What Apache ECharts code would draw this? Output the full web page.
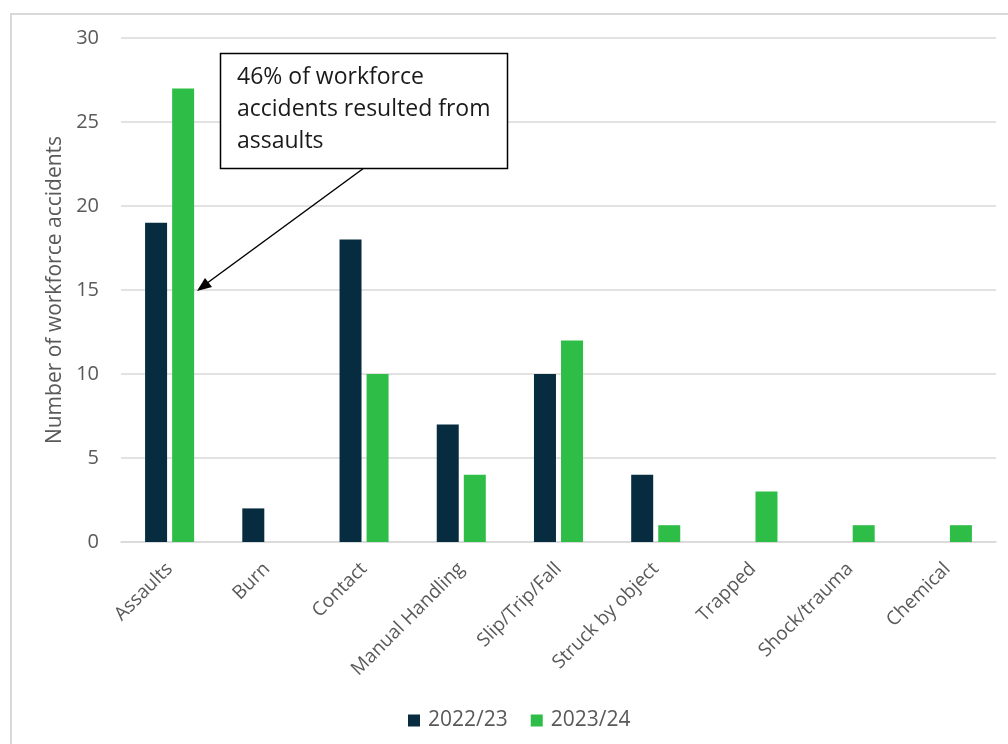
<!DOCTYPE html>
<html><head><meta charset="utf-8">
<script src="https://cdn.jsdelivr.net/npm/echarts@6/dist/echarts.min.js"></script>
<style>html,body{margin:0;padding:0;background:#fff}#c{width:1008px;height:744px}</style>
</head><body><div id="c"></div>
<script>
const categories = ['Assaults','Burn','Contact','Manual Handling','Slip/Trip/Fall','Struck by object','Trapped','Shock/trauma','Chemical'];
const values2223 = [19,2,18,7,10,4,0,0,0];
const values2324 = [27,0,10,4,12,1,3,1,1];
const seriesNames = ['2022/23','2023/24'];
const yTicks = {min:0,max:30,interval:5};
const annotationText = '46% of workforce\naccidents resulted from\nassaults';

const chart = echarts.init(document.getElementById('c'));
const font = '"Open Sans", sans-serif';
chart.setOption({
  animation:false,
  backgroundColor:'#fff',
  grid:{left:121,right:12,top:38,bottom:202,containLabel:false},
  legend:{bottom:8,left:403,itemWidth:12,itemHeight:12,itemGap:23,icon:'rect',
    textStyle:{fontFamily:font,fontSize:21,color:'#595959',padding:[0,0,0,3]},data:seriesNames},
  xAxis:{type:'category',data:categories,
    axisLine:{lineStyle:{color:'#d9d9d9',width:1.5}},axisTick:{show:false},
    axisLabel:{rotate:45,interval:0,fontFamily:font,fontSize:19,color:'#595959',margin:24}},
  yAxis:{type:'value',min:yTicks.min,max:yTicks.max,interval:yTicks.interval,
    name:'Number of workforce accidents',nameLocation:'middle',nameGap:53,
    nameTextStyle:{fontFamily:font,fontSize:21,color:'#595959'},
    axisLine:{show:false},axisTick:{show:false},
    splitLine:{lineStyle:{color:'#d9d9d9',width:1.5}},
    axisLabel:{fontFamily:font,fontSize:20,color:'#595959',margin:22}},
  series:[
    {name:seriesNames[0],type:'bar',data:values2223,barWidth:22,barGap:'23%',itemStyle:{color:'#072c40'}},
    {name:seriesNames[1],type:'bar',data:values2324,barWidth:22,barGap:'23%',itemStyle:{color:'#2ebd47'}}
  ],
  graphic:[
    {type:'rect',shape:{x:11,y:14,width:1100,height:800},style:{fill:null,stroke:'#d9d9d9',lineWidth:2},silent:true,z:-1},
    {type:'line',shape:{x1:364,y1:168,x2:199,y2:289},style:{stroke:'#000',lineWidth:1.5},z:10},
    {type:'polygon',shape:{points:[[197,291],[212,287],[205,278]]},style:{fill:'#000'},z:10},
    {type:'rect',shape:{x:220.5,y:53.5,width:287,height:115},style:{fill:'#fff',stroke:'#000',lineWidth:1.5},z:11},
    {type:'text',x:237,y:61,style:{text:annotationText,font:'23px "Open Sans", sans-serif',fill:'#1a1a1a',lineHeight:32},z:12}
  ]
});
</script></body></html>
